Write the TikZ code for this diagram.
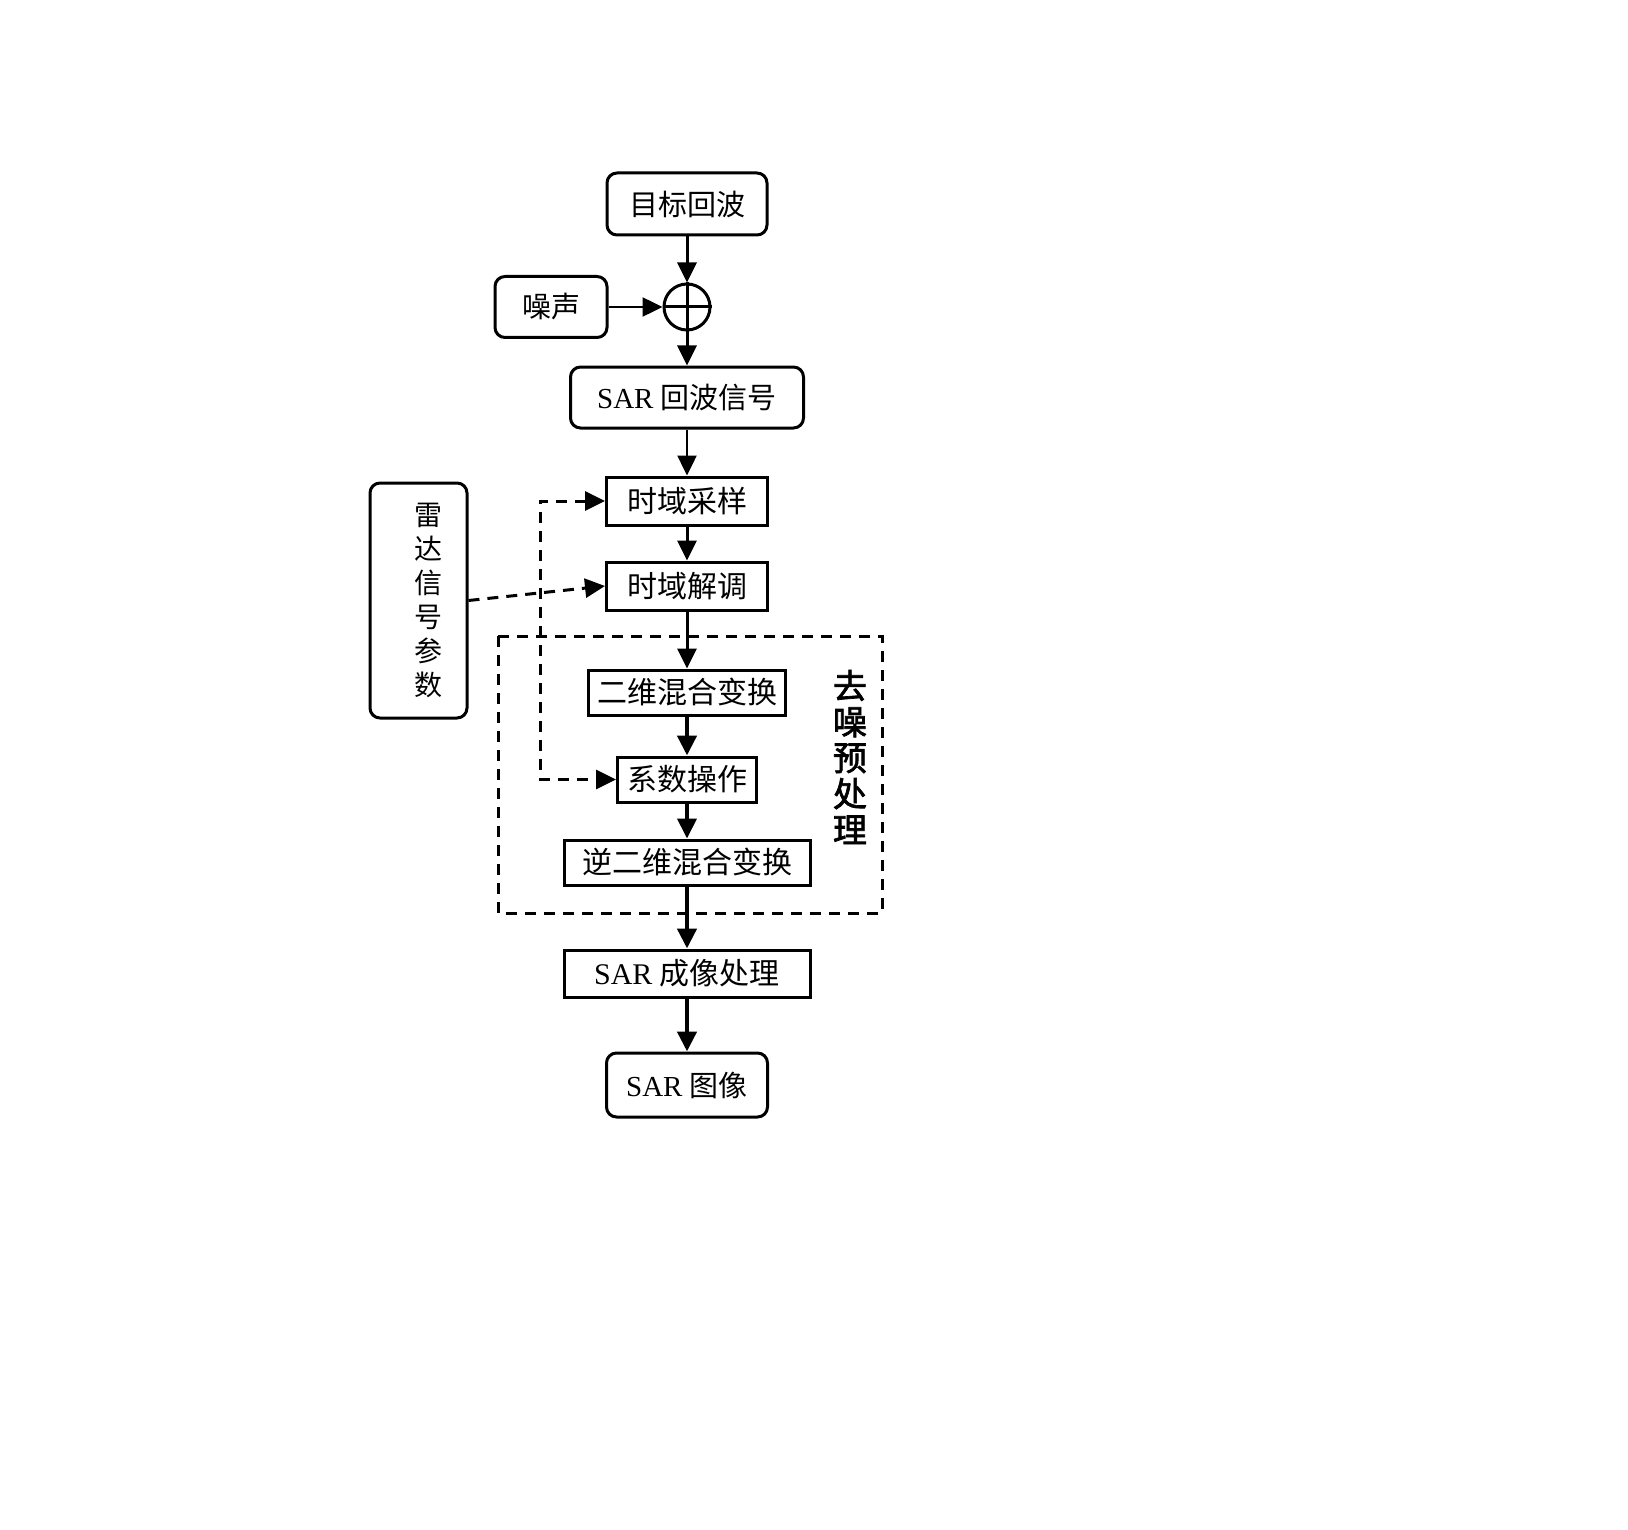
\documentclass[tikz,border=0pt]{standalone}
\usepackage{fontspec}
\setmainfont{Liberation Serif}
\newfontfamily\cjk{Noto Sans CJK SC}
\newfontfamily\cjkb[FakeBold=2]{Noto Sans CJK SC}
\usetikzlibrary{arrows.meta}
\begin{document}
\begin{tikzpicture}[x=1pt,y=-1pt,
  rbox/.style={draw,line width=3pt,rounded corners=10pt,inner sep=0pt,font=\fontsize{29}{33}\selectfont},
  sbox/.style={draw,line width=3pt,inner sep=0pt,font=\fontsize{30}{34}\selectfont},
  arr/.style={line width=3pt,-{Triangle[length=20pt,width=19pt]}},
  dsh/.style={line width=3pt,dash pattern=on 11pt off 8pt}]
\useasboundingbox (0,0) rectangle (1628,1530);
% nodes
\node[rbox,minimum width=160pt,minimum height=62pt] (mubiao) at (687,204) {\cjk 目标回波};
\node[draw,circle,line width=3pt,minimum size=46pt,inner sep=0pt] (sum) at (687,307) {};
\node[rbox,minimum width=112pt,minimum height=61pt] (noise) at (551,307) {\cjk 噪声};
\node[rbox,minimum width=233pt,minimum height=61pt] (echo) at (687,397.5) {SAR {\cjk 回波信号}};
\node[sbox,minimum width=161pt,minimum height=48pt] (caiyang) at (687,501) {\cjk 时域采样};
\node[sbox,minimum width=161pt,minimum height=48pt] (jietiao) at (687,586) {\cjk 时域解调};
\node[sbox,minimum width=197pt,minimum height=45pt] (erwei) at (687,692.5) {\cjk 二维混合变换};
\node[sbox,minimum width=139pt,minimum height=45pt] (xishu) at (687,779.5) {\cjk 系数操作};
\node[sbox,minimum width=246pt,minimum height=45pt] (ni) at (687,862.5) {\cjk 逆二维混合变换};
\node[sbox,minimum width=246pt,minimum height=47pt] (cheng) at (687,973.5) {SAR {\cjk 成像处理}};
\node[rbox,minimum width=161pt,minimum height=64pt] (image) at (687,1085) {SAR {\cjk 图像}};
\node[rbox,minimum width=97pt,minimum height=235pt] (radar) at (418.5,600.5) {};
\node[font=\fontsize{28}{34}\selectfont\cjk,align=center] (radartext) at (428,600) {雷\\达\\信\\号\\参\\数};
% cross in summing circle
\draw[line width=3pt] (sum.north) -- (sum.south) (sum.west) -- (sum.east);
% dashed frame and label
\draw[dsh] (498,636) rectangle (882,913);
\node[font=\fontsize{34}{36}\selectfont\cjkb,align=center] (qz) at (850,757) {去\\噪\\预\\处\\理};
% main flow
\draw[arr] (mubiao.south) -- (sum.north);
\draw[line width=2.5pt,-{Triangle[length=20pt,width=19pt]}] (noise.east) -- (sum.west);
\draw[arr] (sum.south) -- (echo.north);
\draw[arr,line width=2.5pt] (echo.south) -- (caiyang.north);
\draw[arr] (caiyang.south) -- (jietiao.north);
\draw[arr] (jietiao.south) -- (erwei.north);
\draw[arr,line width=4.5pt] (erwei.south) -- (xishu.north);
\draw[arr,line width=4pt] (xishu.south) -- (ni.north);
\draw[arr,line width=4.5pt] (ni.south) -- (cheng.north);
\draw[arr,line width=4.5pt] (cheng.south) -- (image.north);
% dashed parameter lines
\coordinate (busx) at (540,0);
\draw[dsh,-{Triangle[length=20pt,width=19pt]}] (radar.east) -- (jietiao.west);
\draw[dsh,{Triangle[length=20pt,width=19pt]}-{Triangle[length=20pt,width=19pt]}] (caiyang.west) -- (busx |- caiyang.west) -- (busx |- xishu.west) -- (xishu.west);
\end{tikzpicture}
\end{document}
